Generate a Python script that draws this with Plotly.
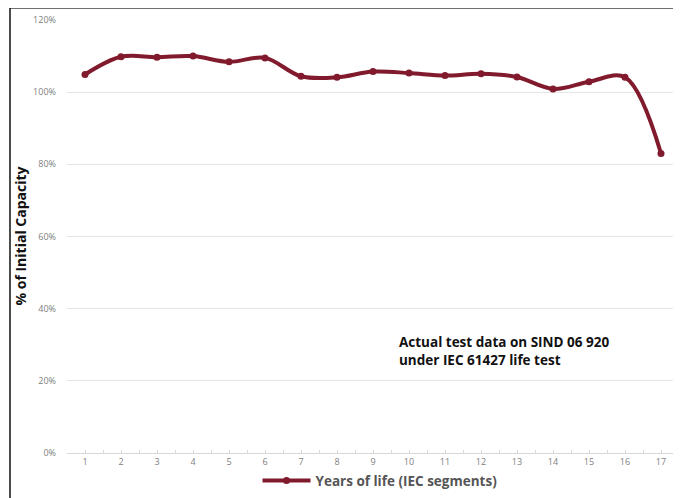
import plotly.graph_objects as go

years = list(range(1, 18))
year_labels = [str(y) for y in years]
capacity = [104.9, 109.8, 109.7, 110.0, 108.4, 109.5, 104.4, 104.1, 105.7,
            105.3, 104.6, 105.1, 104.2, 100.9, 102.9, 104.1, 83.0]
y_ticks = [0, 20, 40, 60, 80, 100, 120]
y_tick_labels = [f"{v}%" for v in y_ticks]

color = "#801a2c"
OFF = 8  # page body margin
W, H = 681 - OFF, 498 - OFF
L, R, T, B = 67 - OFF, 2, 20 - OFF, 42
pw, ph = W - L - R, H - T - B

def px(x):
    # x given in window pixels
    return (x - OFF - L) / pw

def py(y):
    return (H - B - (y - OFF)) / ph

fig = go.Figure()
fig.add_trace(go.Scatter(
    x=years, y=capacity, mode="lines+markers",
    name="<b>Years of life (IEC segments)</b>",
    line=dict(color=color, width=4, shape="spline", smoothing=1),
    marker=dict(color=color, size=7),
))

fig.update_layout(
    width=W, height=H,
    margin=dict(l=L, r=R, t=T, b=B),
    plot_bgcolor="white", paper_bgcolor="white",
    font=dict(family="Open Sans, sans-serif"),
    showlegend=True,
    legend=dict(orientation="h", x=px(380), xanchor="center", y=py(484), yanchor="middle",
                font=dict(size=13.5, color="#555555", family="Open Sans, sans-serif"),
                bgcolor="rgba(0,0,0,0)", itemwidth=48),
    xaxis=dict(range=[0.5, 17.5], tickvals=years, ticktext=year_labels,
               showgrid=False, zeroline=False, showline=True, linecolor="#d9d9d9", linewidth=1,
               ticks="inside", ticklen=3, tickcolor="#d9d9d9",
               minor=dict(tickvals=[y + 0.5 for y in [0] + years], ticks="inside", ticklen=3, tickcolor="#d9d9d9"),
               tickfont=dict(size=9, color="#808080")),
    yaxis=dict(range=[0, 120], tickvals=y_ticks, ticktext=y_tick_labels,
               showgrid=True, gridcolor="#e6e6e6", gridwidth=1.3, zeroline=False,
               ticklabelstandoff=10,
               tickfont=dict(size=9, color="#808080")),
    annotations=[
        dict(text="<b>% of Initial Capacity</b>", xref="paper", yref="paper",
             x=px(20), y=py(238), textangle=-90, showarrow=False,
             font=dict(size=14, color="#111111"), xanchor="center", yanchor="middle"),
        dict(text="<b>Actual test data on SIND 06 920<br>under IEC 61427 life test</b>",
             xref="paper", yref="paper", x=px(397), y=py(353), xanchor="left", yanchor="middle",
             align="left", showarrow=False, font=dict(size=13.5, color="#111111")),
    ],
    shapes=[
        dict(type="line", xref="paper", yref="paper", x0=px(10), x1=px(690), y0=py(8), y1=py(8),
             line=dict(color="#707070", width=2)),
        dict(type="line", xref="paper", yref="paper", x0=px(10), x1=px(10), y0=py(8), y1=py(510),
             line=dict(color="#111111", width=1.5)),
    ],
)

fig.write_html("out.html")
